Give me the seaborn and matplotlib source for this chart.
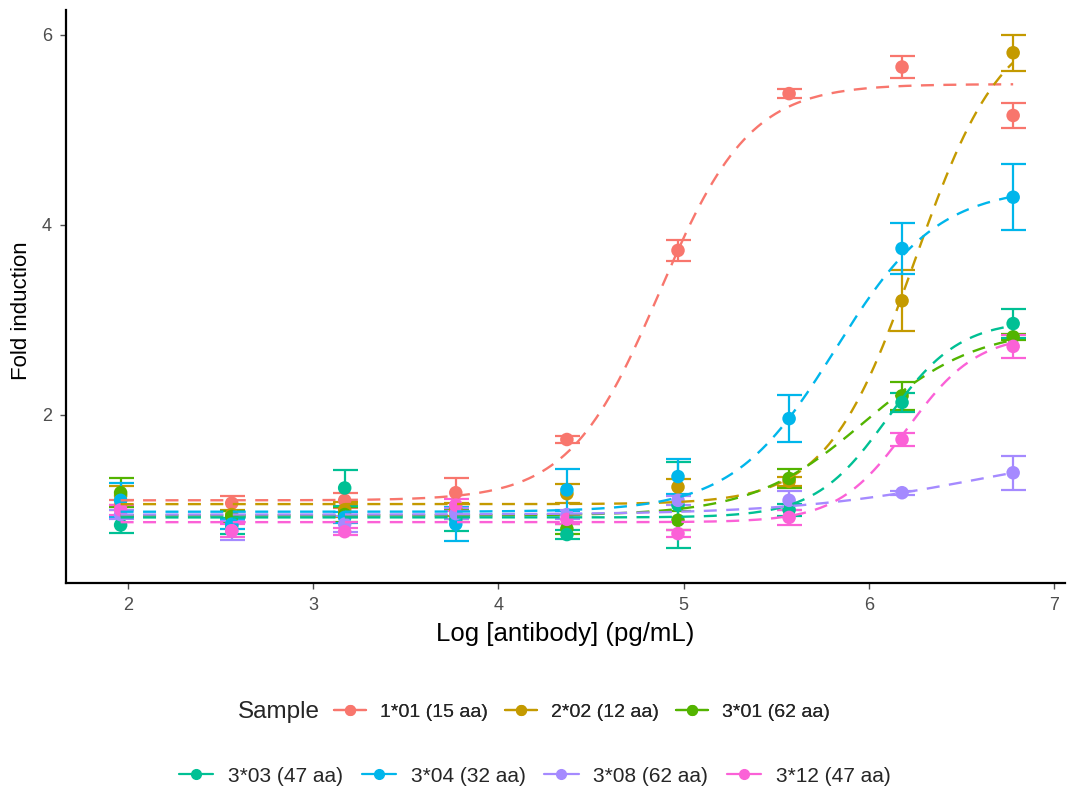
import numpy as np
import pandas as pd
import matplotlib
matplotlib.use("Agg")
import matplotlib.pyplot as plt
from matplotlib.lines import Line2D
import seaborn as sns

# ---------------- data ----------------
samples = ["1*01 (15 aa)", "2*02 (12 aa)", "3*01 (62 aa)", "3*03 (47 aa)",
           "3*04 (32 aa)", "3*08 (62 aa)", "3*12 (47 aa)"]
colors = ["#F8766D", "#C49A00", "#53B400", "#00C094", "#00B6EB", "#A58AFF", "#FB61D7"]

log_dose = [1.96, 2.56, 3.17, 3.77, 4.37, 4.97, 5.57, 6.18, 6.78]

mean_101 = [1.05, 1.07, 1.10, 1.18, 1.74, 3.73, 5.38, 5.66, 5.15]
sd_101   = [0.05, 0.08, 0.08, 0.16, 0.04, 0.11, 0.05, 0.12, 0.13]
mean_202 = [1.15, 0.95, 1.00, 1.00, 1.17, 1.24, 1.30, 3.20, 5.81]
sd_202   = [0.10, 0.05, 0.08, 0.07, 0.10, 0.08, 0.05, 0.32, 0.19]
mean_301 = [1.18, 0.93, 0.95, 0.95, 0.80, 0.89, 1.33, 2.20, 2.82]
sd_301   = [0.15, 0.06, 0.08, 0.05, 0.05, 0.10, 0.10, 0.15, 0.03]
mean_303 = [0.84, 0.83, 1.23, 0.90, 0.74, 1.05, 1.00, 2.13, 2.96]
sd_303   = [0.08, 0.08, 0.19, 0.12, 0.05, 0.45, 0.06, 0.10, 0.15]
mean_304 = [1.10, 0.85, 0.92, 0.85, 1.21, 1.35, 1.96, 3.75, 4.29]
sd_304   = [0.18, 0.05, 0.06, 0.18, 0.22, 0.18, 0.25, 0.27, 0.35]
mean_308 = [0.95, 0.78, 0.85, 0.96, 0.95, 1.10, 1.10, 1.18, 1.39]
sd_308   = [0.05, 0.10, 0.08, 0.06, 0.05, 0.05, 0.10, 0.02, 0.18]
mean_312 = [1.00, 0.78, 0.77, 1.05, 0.90, 0.75, 0.92, 1.74, 2.72]
sd_312   = [0.05, 0.07, 0.04, 0.06, 0.05, 0.04, 0.08, 0.07, 0.12]

# four-parameter logistic fit parameters (bottom, top, logEC50, hill)
fit_bottom = [1.10, 1.06, 0.94, 0.92, 0.98, 0.95, 0.87]
fit_top    = [5.48, 6.20, 2.92, 3.00, 4.40, 1.70, 2.85]
fit_ec50   = [4.87, 6.25, 5.98, 6.10, 5.82, 6.60, 6.21]
fit_hill   = [1.78, 1.84, 1.43, 2.22, 1.57, 0.85, 2.30]

means = [mean_101, mean_202, mean_301, mean_303, mean_304, mean_308, mean_312]
sds = [sd_101, sd_202, sd_301, sd_303, sd_304, sd_308, sd_312]

pts = pd.DataFrame({
    "Sample": np.repeat(samples, len(log_dose)),
    "x": np.tile(log_dose, len(samples)),
    "y": np.concatenate(means),
    "sd": np.concatenate(sds),
})

grid = np.linspace(min(log_dose), max(log_dose), 200)
curve_rows = []
for s, b, t, c, h in zip(samples, fit_bottom, fit_top, fit_ec50, fit_hill):
    yy = b + (t - b) / (1 + 10 ** ((c - grid) * h))
    curve_rows.append(pd.DataFrame({"Sample": s, "x": grid, "y": yy}))
curves = pd.concat(curve_rows, ignore_index=True)

# ---------------- plot ----------------
sns.set_theme(style="ticks")
plt.rcParams["font.family"] = ["Liberation Sans", "DejaVu Sans"]

fig = plt.figure(figsize=(10.67, 7.89), dpi=100)
ax = fig.add_axes([66 / 1067, 1 - 583 / 789, (1065 - 66) / 1067, (583 - 10) / 789])

palette = dict(zip(samples, colors))

for s in samples:
    d = pts[pts["Sample"] == s]
    ax.errorbar(d["x"], d["y"], yerr=d["sd"], fmt="none", ecolor=palette[s],
                elinewidth=1.6, capsize=9, capthick=1.6, zorder=2)

sns.scatterplot(data=pts, x="x", y="y", hue="Sample", palette=palette, s=95,
                edgecolor="none", legend=False, ax=ax, zorder=3)

n_before = len(ax.lines)
sns.lineplot(data=curves, x="x", y="y", hue="Sample", palette=palette,
             legend=False, ax=ax, linewidth=1.7, zorder=4)
for ln in ax.lines[n_before:]:
    ln.set_linestyle((0, (5.5, 4.0)))

ax.set_xlim(1.665, 7.06)
ax.set_ylim(0.23, 6.26)
ax.set_xticks([2, 3, 4, 5, 6, 7])
ax.set_yticks([2, 4, 6])
ax.set_xticklabels(["2", "3", "4", "5", "6", "7"])
ax.set_yticklabels(["2", "4", "6"])
ax.tick_params(axis="both", colors="#4D4D4D", labelsize=13, length=4, width=1,
               direction="out", pad=6)
ax.tick_params(axis="both", labelcolor="#4D4D4D")
for sp in ["top", "right"]:
    ax.spines[sp].set_visible(False)
for sp in ["left", "bottom"]:
    ax.spines[sp].set_color("black")
    ax.spines[sp].set_linewidth(1.6)
ax.set_xlabel("Log [antibody] (pg/mL)", fontsize=18.5, color="black", labelpad=6)
ax.set_ylabel("Fold induction", fontsize=16, color="black")
ax.yaxis.set_label_coords(-0.034, 0.476)
ax.grid(False)

def handle(c):
    return Line2D([0], [0], color=c, lw=1.6, marker="o", markersize=7)

legkw = dict(frameon=False, handlelength=1.65, handletextpad=0.7,
             columnspacing=0.9, borderaxespad=0, borderpad=0)
leg1 = fig.legend([handle(c) for c in colors[:3]], samples[:3], loc="center left",
                  bbox_to_anchor=(334 / 1067, 1 - 712 / 789), ncol=3, fontsize=14, **legkw)
fig.text(238 / 1067, 1 - 712 / 789, "Sample", fontsize=17.5, va="center", ha="left")
leg2 = fig.legend([handle(c) for c in colors[3:]], samples[3:], loc="center left",
                  bbox_to_anchor=(179 / 1067, 1 - 776 / 789), ncol=4, fontsize=15, **legkw)
fig.add_artist(leg1)

fig.savefig("out.png", dpi=100)
